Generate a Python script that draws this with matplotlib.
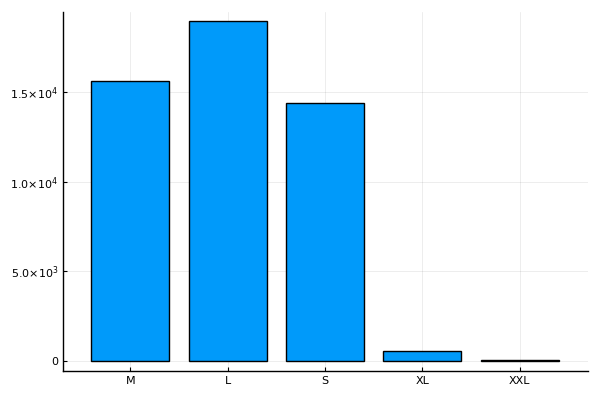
import matplotlib
matplotlib.use("Agg")
import matplotlib.pyplot as plt
from matplotlib.ticker import FixedLocator, FixedFormatter

# sizes and counts
sizes = ["M", "L", "S", "XL", "XXL"]
counts = [15640, 19000, 14410, 560, 30]

ytick_vals = [0, 5000, 10000, 15000]
ytick_labels = ["0", r"$5.0{\times}10^{3}$", r"$1.0{\times}10^{4}$", r"$1.5{\times}10^{4}$"]

plt.rcParams["mathtext.fontset"] = "dejavusans"

fig = plt.figure(figsize=(6, 4), dpi=100)
ax = fig.add_axes([0.105, 0.0725, 0.875, 0.8975])

xpos = [i + 0.5 for i in range(len(sizes))]
ax.bar(xpos, counts, width=0.8, color="#009AFA", edgecolor="black", linewidth=1, zorder=2)

ax.set_xlim(-0.19, 5.2)
ax.set_ylim(-570, 19500)

ax.xaxis.set_major_locator(FixedLocator(xpos))
ax.xaxis.set_major_formatter(FixedFormatter(sizes))
ax.yaxis.set_major_locator(FixedLocator(ytick_vals))
ax.yaxis.set_major_formatter(FixedFormatter(ytick_labels))

ax.tick_params(direction="in", length=3, width=0.8, labelsize=8, colors="black")
ax.grid(True, color="black", alpha=0.1, linewidth=0.5, zorder=0)
ax.set_axisbelow(True)

for side in ["top", "right"]:
    ax.spines[side].set_visible(False)
for side in ["left", "bottom"]:
    ax.spines[side].set_linewidth(1)

fig.savefig("out.png", dpi=100)
